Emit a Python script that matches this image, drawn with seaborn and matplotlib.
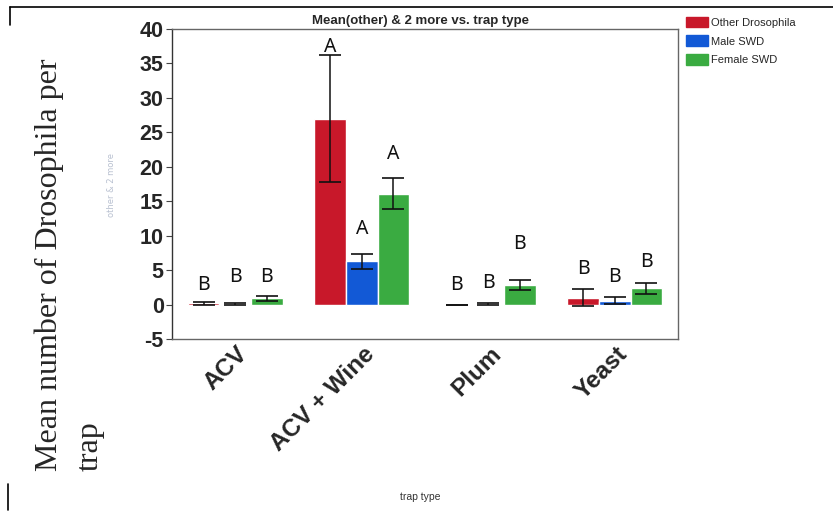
import numpy as np
import pandas as pd
import seaborn as sns
import matplotlib.pyplot as plt
from matplotlib.lines import Line2D
import matplotlib.transforms as mtransforms

# data
trap_types = ['ACV', 'ACV + Wine', 'Plum', 'Yeast']
groups = ['Other Drosophila', 'Male SWD', 'Female SWD']
other_mean = [0.2, 27.0, 0.0, 1.0]
other_err = [0.2, 9.2, 0.0, 1.2]
male_mean = [0.1, 6.3, 0.1, 0.55]
male_err = [0.1, 1.1, 0.1, 0.5]
female_mean = [0.9, 16.1, 2.85, 2.35]
female_err = [0.4, 2.3, 0.7, 0.75]
letters = [['B', 'A', 'B', 'B'], ['B', 'A', 'B', 'B'], ['B', 'A', 'B', 'B']]
letter_y = [[2.8, 37.4, 2.9, 5.1], [4.0, 11.0, 3.2, 4.0], [4.0, 21.8, 8.8, 6.2]]
colors = ['#c8182a', '#1259d6', '#3aab41']

means = [other_mean, male_mean, female_mean]
errs = [other_err, male_err, female_err]
rows = []
for g, m in zip(groups, means):
    for t, v in zip(trap_types, m):
        rows.append({'trap type': t, 'group': g, 'mean': v})
df = pd.DataFrame(rows)

sns.set_style('white')
plt.rcParams['axes.unicode_minus'] = False
fig = plt.figure(figsize=(8.33, 5.12), dpi=100)
ax = fig.add_axes([172 / 833, 1 - 339 / 512, 506 / 833, 310 / 512])

sns.barplot(data=df, x='trap type', y='mean', hue='group', palette=colors,
            errorbar=None, width=0.75, saturation=1, ax=ax, legend=False)

# error bars + letters, one container per hue group
bar_conts = list(ax.containers)
for i, cont in enumerate(bar_conts):
    xs = [p.get_x() + p.get_width() / 2 for p in cont.patches]
    ax.errorbar(xs, means[i], yerr=errs[i], fmt='none', ecolor='#111111',
                elinewidth=1.1, capsize=8, capthick=1.2, zorder=5)
    for x, lab, ly in zip(xs, letters[i], letter_y[i]):
        ax.text(x, ly, lab, ha='center', va='center', fontsize=14,
                family='Noto Sans', color='#111111')

ax.set_ylim(-5, 40)
ax.set_xlim(-0.5, 3.5)
ax.set_yticks(np.arange(-5, 41, 5))
ax.tick_params(axis='y', left=True, length=4, width=0.8, color='#444444',
               labelsize=15.5, pad=2)
ax.tick_params(axis='x', bottom=False, pad=-1)
for lab in ax.get_yticklabels():
    lab.set_fontweight('bold')
    lab.set_family('Liberation Sans')
offset = mtransforms.ScaledTranslation(1 / 100, 0, fig.dpi_scale_trans)
for lab in ax.get_xticklabels():
    lab.set_rotation(45)
    lab.set_ha('right')
    lab.set_va('top')
    lab.set_rotation_mode('anchor')
    lab.set_fontweight('bold')
    lab.set_fontsize(17.5)
    lab.set_family('Liberation Sans')
    lab.set_transform(lab.get_transform() + offset)

for s in ax.spines.values():
    s.set_visible(True)
    s.set_color('#666666')
    s.set_linewidth(1.0)
ax.spines['left'].set_color('#333333')

ax.set_xlabel('')
ax.set_ylabel('')

fig.text(420 / 833, 1 - 21 / 512, 'Mean(other) & 2 more vs. trap type',
         ha='center', va='center', fontsize=9.5, fontweight='bold',
         family='Liberation Sans')
fig.text(420 / 833, 1 - 497 / 512, 'trap type', ha='center', va='center',
         fontsize=7.5, family='Liberation Sans', color='#333333')
fig.text(112 / 833, 1 - 185 / 512, 'other & 2 more', rotation=90,
         ha='center', va='center', fontsize=6, color='#b8c0d0')
fig.text(35 / 833, 1 - 471 / 512, 'Mean number of Drosophila per\ntrap',
         rotation=90, ha='left', va='bottom', fontsize=23,
         family='Liberation Serif', linespacing=1.5)

handles = [plt.Rectangle((0, 0), 1, 1, color=c) for c in colors]
fig.legend(handles, groups, loc='upper left',
           bbox_to_anchor=(680 / 833, 1 - 11 / 512), frameon=False,
           handlelength=2.0, handleheight=1.1,
           handletextpad=0.3, labelspacing=0.7, borderpad=0,
           prop={'family': 'Liberation Sans', 'size': 8})

# scan border lines
fig.add_artist(Line2D([10 / 833, 1], [1 - 7 / 512, 1 - 7 / 512],
                      color='black', lw=1.2))
fig.add_artist(Line2D([10 / 833, 10 / 833], [1 - 7 / 512, 1 - 25 / 512],
                      color='black', lw=1.2))
fig.add_artist(Line2D([8 / 833, 8 / 833], [1 - 484 / 512, 1 - 510 / 512],
                      color='black', lw=1.2))

fig.savefig('out.png', dpi=100)
